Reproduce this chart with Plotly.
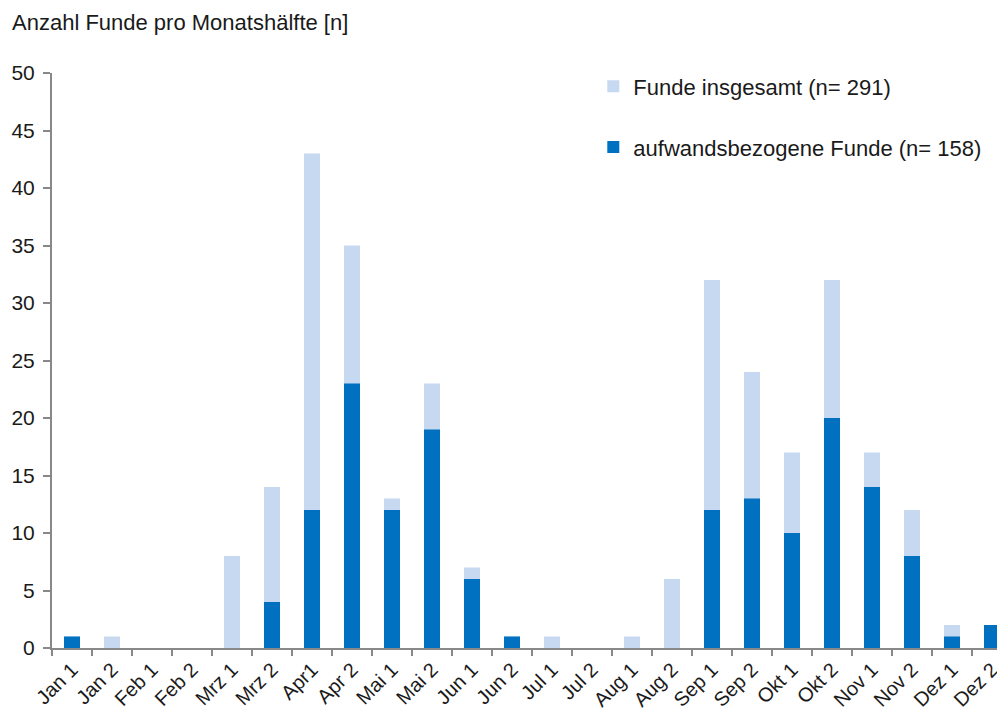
import plotly.graph_objects as go

categories = ["Jan 1", "Jan 2", "Feb 1", "Feb 2", "Mrz 1", "Mrz 2", "Apr1", "Apr 2",
              "Mai 1", "Mai 2", "Jun 1", "Jun 2", "Jul 1", "Jul 2", "Aug 1", "Aug 2",
              "Sep 1", "Sep 2", "Okt 1", "Okt 2", "Nov 1", "Nov 2", "Dez 1", "Dez 2"]
funde_insgesamt = [1, 1, 0, 0, 8, 14, 43, 35, 13, 23, 7, 1, 1, 0, 1, 6,
                   32, 24, 17, 32, 17, 12, 2, 2]
aufwandsbezogen = [1, 0, 0, 0, 0, 4, 12, 23, 12, 19, 6, 1, 0, 0, 0, 0,
                   12, 13, 10, 20, 14, 8, 1, 2]
y_ticks = [0, 5, 10, 15, 20, 25, 30, 35, 40, 45, 50]

FONT = "Liberation Sans, Arial, sans-serif"
TXT = "#1a1a1a"

fig = go.Figure()
fig.add_trace(go.Bar(x=categories, y=funde_insgesamt, name="Funde insgesamt (n= 291)",
                     marker=dict(color="#C6D9F1", line=dict(width=0)), width=0.4,
                     legendgroup="a"))
fig.add_trace(go.Bar(x=categories, y=aufwandsbezogen, name="aufwandsbezogene Funde (n= 158)",
                     marker=dict(color="#0070C0", line=dict(width=0)), width=0.4,
                     legendgroup="b"))

fig.update_layout(
    width=997, height=707,
    barmode="overlay",
    plot_bgcolor="white", paper_bgcolor="white",
    margin=dict(l=44, r=0, t=65, b=67, autoexpand=False),
    font=dict(family=FONT, size=22, color=TXT),
    showlegend=True,
    legend=dict(x=0.568, y=1.013, xanchor="left", yanchor="top",
                font=dict(size=22, color=TXT), tracegroupgap=29,
                bgcolor="rgba(0,0,0,0)"),
    annotations=[dict(text="Anzahl Funde pro Monatshälfte [n]", xref="paper", yref="paper",
                      x=-0.044, y=1.0, yshift=51, xanchor="left", yanchor="middle",
                      showarrow=False, font=dict(size=22, color=TXT, family=FONT))],
)
fig.update_xaxes(type="category", range=[-0.5, 23.325], tickson="boundaries",
                 ticks="outside", ticklen=6, tickcolor="#888", tickwidth=2,
                 showline=True, linecolor="#888", linewidth=2, showgrid=False,
                 tickangle=-45, tickfont=dict(size=20, color=TXT), automargin=False)
fig.update_yaxes(range=[0, 50], tickvals=y_ticks, ticks="outside", ticklen=7,
                 tickcolor="#888", tickwidth=2, showline=True, linecolor="#888",
                 linewidth=2, showgrid=False, zeroline=False, automargin=False,
                 ticklabelstandoff=4,
                 tickfont=dict(size=21, color=TXT))

fig.write_html("out.html")
